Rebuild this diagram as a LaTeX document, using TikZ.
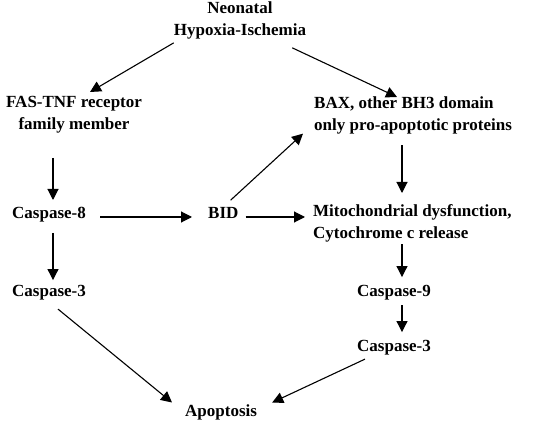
\documentclass[tikz,border=0pt]{standalone}
\usepackage{fontspec}
\setmainfont{Liberation Serif}
\usetikzlibrary{arrows.meta,calc}
\begin{document}
\begin{tikzpicture}[x=1pt,y=-1pt,
  lbl/.style={inner sep=0pt,font=\fontsize{17}{22}\selectfont\bfseries},
  arr/.style={line width=1.1pt,-{Triangle[length=11pt,width=11pt]}}]
\useasboundingbox[fill=white] (0,0) rectangle (547,422);
% nodes
\node[lbl,align=center,anchor=north] (hi) at (240,2) {Neonatal\\Hypoxia-Ischemia};
\node[lbl,align=center,anchor=north] (fas) at (74,96.5) {FAS-TNF receptor\\family member};
\node[lbl,align=left,anchor=north west] (bax) at (314,96.5) {BAX, other BH3 domain\\only pro-apoptotic proteins};
\node[lbl,anchor=base west] (c8) at (12,219) {Caspase-8};
\node[lbl,anchor=base west] (bid) at (208,219) {BID};
\node[lbl,align=left,anchor=north west] (mito) at (313,204.5) {Mitochondrial dysfunction,\\Cytochrome c release};
\node[lbl,anchor=base west] (c3l) at (12,297) {Caspase-3};
\node[lbl,anchor=base west] (c9) at (357,297) {Caspase-9};
\node[lbl,anchor=base west] (c3r) at (357,352) {Caspase-3};
\node[lbl,anchor=base west] (apo) at (185,417) {Apoptosis};
% connectors
\draw[arr] ($(hi.south west)+(0,3)$) -- ($(fas.north)+(16,-4.5)$);
\draw[arr] ($(hi.south east)+(-14,8)$) -- ($(bax.north west)+(83,0.5)$);
\draw[arr] ($(c8.north west)+(41,-49.5)$) -- ($(c8.north west)+(41,-7.5)$);
\draw[arr] ($(c8.south west)+(41,10)$) -- ($(c3l.north west)+(41,-5.5)$);
\draw[arr] ($(c8.base east)+(14,-2)$) -- ($(bid.base west)+(-16,-2)$);
\draw[arr] ($(bid.base east)+(7,-2)$) -- ($(mito.north west)+(-8,12.5)$);
\draw[arr] ($(bid.north east)+(-8,-7.5)$) -- ($(bax.south west)+(-11,-0.7)$);
\draw[arr] ($(bax.south west)+(88,11)$) -- ($(mito.north west)+(89,-11.5)$);
\draw[arr] ($(mito.south west)+(89,1.5)$) -- ($(c9.north west)+(45,-8.5)$);
\draw[arr] ($(c9.south west)+(45,4.3)$) -- ($(c3r.north west)+(45,-8.5)$);
\draw[arr] ($(c3l.south west)+(46,8.3)$) -- ($(apo.north west)+(-13,-2.5)$);
\draw[arr] ($(c3r.south west)+(8,3.3)$) -- ($(apo.north east)+(15,-2.5)$);
\end{tikzpicture}
\end{document}
